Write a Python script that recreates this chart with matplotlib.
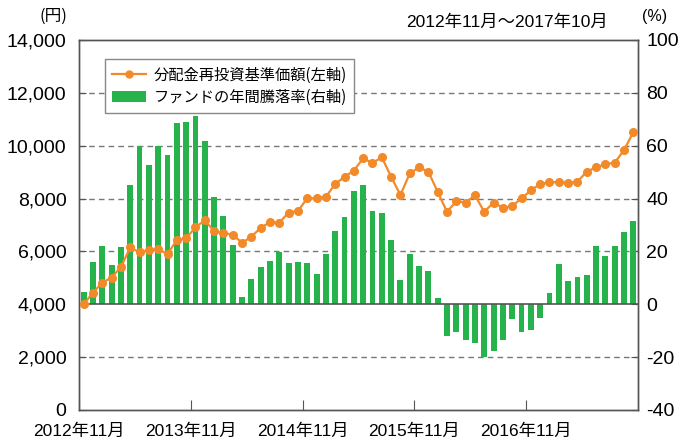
import matplotlib
matplotlib.use("Agg")
import matplotlib.pyplot as plt
from matplotlib.lines import Line2D
from matplotlib.patches import Patch
import numpy as np

plt.rcParams['font.family'] = ['Liberation Sans', 'Noto Sans CJK JP', 'DejaVu Sans']

# ---- data (monthly, 2012/11 - 2017/10) ----
nav = [4000, 4440, 4820, 5010, 5410, 6150, 5970, 6050, 6090, 5900,
       6430, 6500, 6910, 7180, 6770, 6700, 6630, 6330, 6550, 6900,
       7100, 7090, 7470, 7530, 8010, 8010, 8070, 8550, 8820, 9060,
       9520, 9350, 9560, 8830, 8130, 8950, 9180, 9020, 8250, 7500,
       7900, 7850, 8120, 7500, 7850, 7650, 7720, 8010, 8310, 8550,
       8610, 8630, 8590, 8640, 9020, 9180, 9300, 9360, 9830, 10520]
yoy = [4.5, 15.9, 21.9, 14.8, 21.6, 45.0, 59.9, 52.6, 59.9, 56.4,
       68.5, 68.9, 71.1, 61.7, 40.5, 33.3, 22.3, 2.6, 9.5, 14.0,
       16.3, 19.8, 15.5, 15.9, 15.5, 11.3, 18.9, 27.6, 32.9, 42.8,
       45.0, 35.2, 34.4, 24.2, 9.1, 18.9, 14.5, 12.6, 2.4, -12.1,
       -10.3, -13.4, -14.6, -19.9, -17.8, -13.4, -5.4, -10.6, -9.6, -5.0,
       4.3, 15.2, 8.8, 10.2, 11.0, 22.0, 18.2, 22.0, 27.2, 31.4]
x_labels = ['2012年11月', '2013年11月', '2014年11月', '2015年11月', '2016年11月']
x_label_months = [0, 12, 24, 36, 48]
left_ticks = [0, 2000, 4000, 6000, 8000, 10000, 12000, 14000]
right_ticks = [-40, -20, 0, 20, 40, 60, 80, 100]
line_label = '分配金再投資基準価額(左軸)'
bar_label = 'ファンドの年間騰落率(右軸)'
period_text = '2012年11月～2017年10月'

ORANGE = '#F28A2A'
GREEN = '#27B34B'
SPINE = '#555555'
GRID = '#777777'

fig = plt.figure(figsize=(6.84, 4.42), dpi=100)
ax = fig.add_axes([79/684, 32/442, (638-79)/684, (410-40)/442])
ax2 = ax.twinx()
x = np.arange(len(yoy))

# bars on main axis (right-hand % scale)
ax.bar(x, yoy, width=0.63, color=GREEN, zorder=2)
ax.set_ylim(-40, 100)
ax.set_xlim(-0.5, len(yoy) - 0.5)
for v in right_ticks[1:-1]:
    if v != 0:
        ax.axhline(v, color=GRID, lw=1.0, ls=(0, (4, 3)), zorder=1)
ax.axhline(0, color=SPINE, lw=1.2, zorder=3)

ax.set_xticks([m - 0.5 for m in x_label_months])
ax.set_xticklabels(x_labels)
ax.tick_params(axis='x', direction='in', length=7, color=SPINE, labelsize=12.5, pad=10)
for s in ax.spines.values():
    s.set_color(SPINE)
    s.set_linewidth(1.0)

# line on twin axis (left-hand yen scale)
ax2.plot(x, nav, color=ORANGE, lw=1.6, marker='o', ms=5.5, zorder=4)
ax2.set_ylim(0, 14000)
for s in ax2.spines.values():
    s.set_color(SPINE)
    s.set_linewidth(1.0)

# axis sides: yen on the left, % on the right
ax.yaxis.tick_right()
ax.set_yticks(right_ticks)
ax.set_yticklabels([str(v) for v in right_ticks])
ax.tick_params(axis='y', which='both', left=False, labelleft=False, right=True,
               labelright=True, direction='in', length=5, color=SPINE,
               labelsize=14, pad=6)
ax2.yaxis.tick_left()
ax2.set_yticks(left_ticks)
ax2.set_yticklabels([f'{v:,}' for v in left_ticks])
ax2.tick_params(axis='y', which='both', right=False, labelright=False, left=True,
                labelleft=True, direction='in', length=5, color=SPINE,
                labelsize=14, pad=9)

handles = [Line2D([0], [0], color=ORANGE, lw=1.6, marker='o', ms=5),
           Patch(facecolor=GREEN, edgecolor='none')]
leg = ax2.legend(handles, [line_label, bar_label], loc='upper left',
                 bbox_to_anchor=(0.032, 0.97), fancybox=False, frameon=True,
                 edgecolor='#888888', framealpha=1.0, borderpad=0.5,
                 handlelength=2.2, handletextpad=0.5, labelspacing=0.35,
                 prop={'family': ['Noto Sans CJK JP'], 'size': 11})
leg.get_frame().set_linewidth(1.0)

fig.text(67/684, 1 - 16/442, '(円)', ha='right', va='center', fontsize=12,
         family=['Noto Sans CJK JP'])
fig.text(608/684, 1 - 22/442, period_text, ha='right', va='center', fontsize=12.5)
fig.text(642/684, 1 - 16/442, '(%)', ha='left', va='center', fontsize=11.5)

fig.savefig('out.png', dpi=100)
